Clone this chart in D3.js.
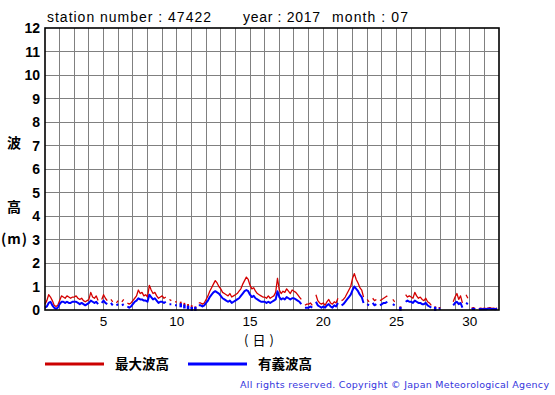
<!DOCTYPE html>
<html><head><meta charset="utf-8">
<script src="https://cdn.jsdelivr.net/npm/d3@7"></script>
<style>body{margin:0;background:#fff}svg{display:block}</style>
</head><body><svg id="c" width="555" height="395"></svg>
<script>
// 3-hourly readings, 8 per day, July 2017 (null = missing)
const maxWave = [
 0.25,0.4,0.65,0.55,0.4,0.2,0.15,0.2,
 0.4,0.6,0.55,0.5,0.6,0.55,0.5,0.55,
 0.55,0.6,0.5,0.45,0.5,0.4,0.35,0.4,
 0.45,0.75,0.55,0.5,0.6,0.4,null,0.45,
 0.65,0.5,0.4,null,0.45,0.35,null,0.3,
 0.4,null,0.35,0.45,null,0.3,0.25,0.3,
 0.4,0.5,0.6,0.85,0.7,0.75,0.6,0.65,
 0.55,1.05,0.85,0.7,0.75,0.6,0.5,0.55,
 0.6,0.5,0.55,null,0.45,0.4,null,0.35,
 0.35,null,0.3,null,0.25,null,0.2,null,
 0.15,null,0.1,null,0.3,0.3,0.25,0.3,
 0.45,0.6,0.8,0.95,1.1,1.25,1.15,1.0,
 0.9,0.75,0.7,0.65,0.6,0.7,0.55,0.6,
 0.65,0.7,0.8,0.9,1.1,1.25,1.4,1.3,
 1.05,0.9,0.95,0.8,0.7,0.65,0.6,0.55,
 0.55,0.5,0.6,0.5,0.55,0.6,0.75,1.35,
 0.85,0.7,0.8,0.75,0.9,0.8,0.7,0.85,
 0.8,0.75,0.65,0.55,0.45,null,0.2,0.25,
 0.25,0.3,0.2,null,0.65,0.4,0.3,0.25,
 0.3,0.2,0.35,0.45,0.3,0.25,0.35,0.3,
 0.5,null,0.4,0.45,0.55,0.7,0.85,1.0,
 1.35,1.55,1.3,1.15,0.95,0.85,0.55,null,
 0.45,0.35,null,0.5,0.4,0.45,null,0.4,
 0.45,0.5,0.55,0.6,null,null,0.45,0.35,
 null,null,0.1,null,null,0.65,0.55,0.6,
 0.55,0.5,0.75,0.6,0.5,0.55,0.45,0.4,
 0.5,0.35,0.3,0.2,null,0.1,null,0.1,
 0.1,null,null,null,null,null,null,0.35,
 0.55,0.7,0.45,0.6,0.3,null,0.65,0.5,
 null,0.08,0.1,0.06,null,0.06,0.08,0.06,
 0.08,0.06,0.08,0.1,0.07,0.08,0.06,0.08
];
const sigWave = [
 0.1,0.15,0.3,0.35,0.2,0.1,0.05,0.1,
 0.25,0.35,0.35,0.3,0.35,0.3,0.3,0.35,
 0.35,0.35,0.3,0.25,0.3,0.25,0.2,0.25,
 0.3,0.4,0.35,0.3,0.35,0.25,null,0.3,
 0.4,0.3,0.25,null,0.3,0.2,null,0.2,
 0.25,null,0.2,0.25,null,0.15,0.1,0.15,
 0.25,0.35,0.4,0.5,0.45,0.45,0.4,0.4,
 0.35,0.65,0.55,0.45,0.5,0.4,0.3,0.35,
 0.35,0.3,0.35,null,0.25,0.25,null,0.2,
 0.2,null,0.2,null,0.15,null,0.1,null,
 0.05,null,0.05,null,0.2,0.2,0.15,0.2,
 0.3,0.4,0.55,0.65,0.75,0.8,0.75,0.7,
 0.6,0.5,0.45,0.4,0.35,0.4,0.3,0.35,
 0.4,0.45,0.5,0.6,0.7,0.8,0.85,0.8,
 0.65,0.55,0.6,0.5,0.45,0.4,0.35,0.35,
 0.35,0.3,0.35,0.3,0.35,0.4,0.45,0.8,
 0.55,0.45,0.5,0.45,0.55,0.5,0.45,0.5,
 0.5,0.45,0.4,0.35,0.25,null,0.1,0.1,
 0.1,0.15,0.1,null,0.35,0.2,0.15,0.1,
 0.15,0.1,0.2,0.25,0.15,0.1,0.2,0.15,
 0.3,null,0.2,0.25,0.35,0.45,0.55,0.65,
 0.85,1.0,0.9,0.8,0.65,0.55,0.3,null,
 0.25,0.2,null,0.3,0.2,0.25,null,0.2,
 0.25,0.3,0.3,0.35,null,null,0.25,0.2,
 null,null,0.05,null,null,0.35,0.4,0.35,
 0.35,0.3,0.4,0.35,0.3,0.3,0.25,0.25,
 0.3,0.2,0.15,0.1,null,0.05,null,0.05,
 0.05,null,null,null,null,null,null,0.2,
 0.3,0.35,0.25,0.3,0.1,null,0.3,0.25,
 null,0.04,0.05,0.03,null,0.03,0.04,0.03,
 0.04,0.03,0.05,0.05,0.04,0.04,0.03,0.05
];
const perDay = 8;
const dayDomain = [1, 32];
const xTicks = [5, 10, 15, 20, 25, 30];
const yTicks = [0,1,2,3,4,5,6,7,8,9,10,11,12];
const titleParts = [
  {t:"station number : 47422", x:47, len:164},
  {t:"year : 2017", x:243, len:77},
  {t:"month : 07", x:332, len:76}
];
const legendItems = [
  {label:"最大波高", color:"#cc0000"},
  {label:"有義波高", color:"#0000ff"}
];

const svg = d3.select("#c");
const L = 45, R = 499, T = 28, B = 310;
const x = d3.scaleLinear().domain(dayDomain).range([L, R]);
const y = d3.scaleLinear().domain([0, 12]).range([B, T]);

// grid
const g = svg.append("g");
g.selectAll("line.v").data(d3.range(2, 32)).enter().append("line")
  .attr("x1", d => x(d)).attr("x2", d => x(d)).attr("y1", T).attr("y2", B)
  .attr("stroke", "#808080").attr("stroke-width", 1).attr("shape-rendering","crispEdges");
g.selectAll("line.h").data(d3.range(1, 12)).enter().append("line")
  .attr("x1", L).attr("x2", R).attr("y1", d => y(d)).attr("y2", d => y(d))
  .attr("stroke", "#808080").attr("stroke-width", 1).attr("shape-rendering","crispEdges");

// series
const toPts = arr => arr.map((v, i) => ({t: 1 + i / perDay, v}));
function drawSeries(arr, color, w) {
  const pts = toPts(arr);
  const line = d3.line().defined(d => d.v != null).x(d => x(d.t)).y(d => y(d.v));
  svg.append("path").datum(pts).attr("d", line).attr("fill", "none")
    .attr("stroke", color).attr("stroke-width", w).attr("stroke-linejoin","round");
  const iso = pts.filter((d, i) => d.v != null &&
    (i === 0 || pts[i-1].v == null) && (i === pts.length-1 || pts[i+1].v == null));
  svg.selectAll(null).data(iso).enter().append("rect")
    .attr("x", d => x(d.t) - w/2).attr("y", d => y(d.v) - w).attr("width", w+0.5).attr("height", w*2)
    .attr("fill", color);
}
drawSeries(maxWave, "#d40000", 1.3);
drawSeries(sigWave, "#0000ff", 2);

// frame
svg.append("rect").attr("x", L).attr("y", T).attr("width", R - L).attr("height", B - T)
  .attr("fill", "none").attr("stroke", "#000").attr("stroke-width", 1.6);

// y ticks
const fontLat = "Liberation Sans, Arial, Helvetica, sans-serif";
svg.selectAll("text.yt").data(yTicks).enter().append("text")
  .attr("x", 40).attr("y", d => y(d) + 5).attr("text-anchor", "end")
  .attr("font-family", fontLat).attr("font-weight", "bold").attr("font-size", 14)
  .text(d => d);
// x ticks
svg.selectAll("text.xt").data(xTicks).enter().append("text")
  .attr("x", d => x(d)).attr("y", 326).attr("text-anchor", "middle")
  .attr("font-family", fontLat).attr("font-size", 13.5)
  .text(d => d);

// title
svg.selectAll("text.tt").data(titleParts).enter().append("text")
  .attr("x", d => d.x).attr("y", 22).attr("font-family", fontLat).attr("font-size", 14)
  .attr("textLength", d => d.len).attr("lengthAdjust", "spacing")
  .text(d => d.t);

// axis labels
const fontCJK = "Noto Sans CJK JP, sans-serif";
svg.append("text").attr("x", 14).attr("y", 148).attr("text-anchor","middle")
  .attr("font-family", fontCJK).attr("font-size", 14).attr("font-weight","bold").text("波");
svg.append("text").attr("x", 14).attr("y", 212).attr("text-anchor","middle")
  .attr("font-family", fontCJK).attr("font-size", 14).attr("font-weight","bold").text("高");
svg.append("text").attr("x", 1).attr("y", 244)
  .attr("font-family", fontCJK).attr("font-size", 14).attr("font-weight","bold")
  .attr("textLength", 26).attr("lengthAdjust","spacing").text("(m)");
svg.append("text").attr("x", 244).attr("y", 345)
  .attr("font-family", fontCJK).attr("font-size", 13)
  .attr("textLength", 30).attr("lengthAdjust","spacing").text("(日)");

// legend
const lg = svg.append("g");
legendItems.forEach((d, i) => {
  const x0 = 45 + i * 143;
  lg.append("line").attr("x1", x0).attr("x2", x0 + 59).attr("y1", 364).attr("y2", 364)
    .attr("stroke", d.color).attr("stroke-width", 3);
  lg.append("text").attr("x", x0 + 70).attr("y", 369).attr("font-family", fontCJK)
    .attr("font-size", 13.5).attr("font-weight", "bold").text(d.label);
});

// copyright
svg.append("text").attr("x", 240).attr("y", 388).attr("font-family", "DejaVu Sans, sans-serif")
  .attr("font-size", 9.5).attr("fill", "#3333dd").attr("textLength", 309).attr("lengthAdjust","spacing")
  .text("All rights reserved. Copyright \u00a9 Japan Meteorological Agency");
</script></body></html>
